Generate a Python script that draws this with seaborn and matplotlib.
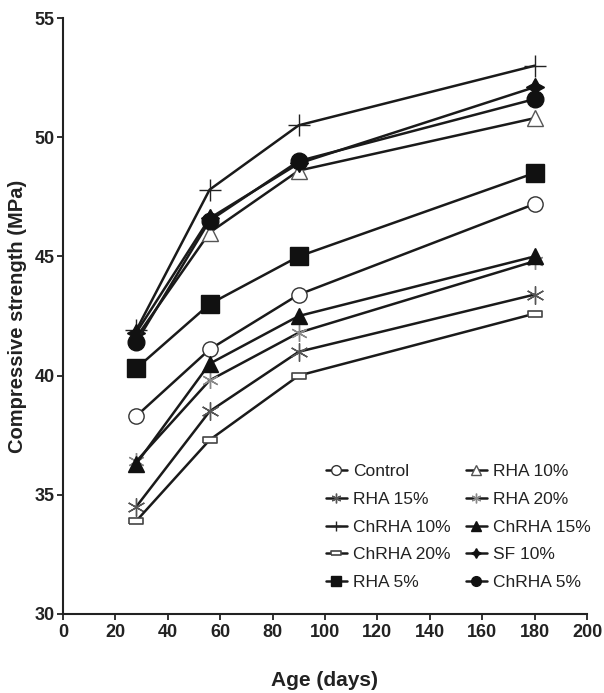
import numpy as np
import pandas as pd
import matplotlib
matplotlib.use("Agg")
import matplotlib.pyplot as plt
import seaborn as sns

sns.set_style("ticks")
plt.rcParams["font.family"] = ["Liberation Sans", "DejaVu Sans"]

days = [28, 56, 90, 180]
control = [38.3, 41.1, 43.4, 47.2]
rha5 = [40.3, 43.0, 45.0, 48.5]
rha10 = [41.6, 46.0, 48.6, 50.8]
rha15 = [34.5, 38.5, 41.0, 43.4]
rha20 = [36.4, 39.8, 41.8, 44.8]
chrha5 = [41.4, 46.5, 49.0, 51.6]
chrha10 = [41.9, 47.8, 50.5, 53.0]
chrha15 = [36.3, 40.5, 42.5, 45.0]
chrha20 = [33.9, 37.3, 40.0, 42.6]
sf10 = [41.8, 46.6, 48.9, 52.1]

# legend order (column-wise, 2 columns)
series = [
    ("Control", control),
    ("RHA 15%", rha15),
    ("ChRHA 10%", chrha10),
    ("ChRHA 20%", chrha20),
    ("RHA 5%", rha5),
    ("RHA 10%", rha10),
    ("RHA 20%", rha20),
    ("ChRHA 15%", chrha15),
    ("SF 10%", sf10),
    ("ChRHA 5%", chrha5),
]

flat_rect = [(-1, -0.4), (1, -0.4), (1, 0.4), (-1, 0.4), (-1, -0.4)]
styles = {
    "Control": dict(marker="o", ms=11, mfc="white", mec="#333333", mew=1.0),
    "RHA 15%": dict(marker=(6, 2, 0), ms=13, mfc="none", mec="#555555", mew=1.0),
    "ChRHA 10%": dict(marker="+", ms=16, mfc="none", mec="#222222", mew=1.0),
    "ChRHA 20%": dict(marker=flat_rect, ms=10, mfc="white", mec="#444444", mew=1.2),
    "RHA 5%": dict(marker="s", ms=13, mfc="#111111", mec="#111111", mew=1.0),
    "RHA 10%": dict(marker="^", ms=12, mfc="white", mec="#555555", mew=1.0),
    "RHA 20%": dict(marker=(6, 2, 0), ms=12, mfc="none", mec="#888888", mew=1.0),
    "ChRHA 15%": dict(marker="^", ms=12, mfc="#111111", mec="#111111", mew=1.0),
    "SF 10%": dict(marker=(4, 1, 0), ms=13, mfc="#111111", mec="#111111", mew=1.0),
    "ChRHA 5%": dict(marker="o", ms=12, mfc="#111111", mec="#111111", mew=1.0),
}

fig = plt.figure(figsize=(6.04, 6.93), dpi=100)
ax = fig.add_axes([0.104, 0.114, 0.868, 0.860])

for name, vals in series:
    df = pd.DataFrame({"Age": days, "Strength": vals})
    sns.lineplot(data=df, x="Age", y="Strength", ax=ax, color="#1a1a1a",
                 linewidth=1.8, label=name, **styles[name])

ax.set_xlim(0, 200)
ax.set_ylim(30, 55)
ax.set_xticks(np.arange(0, 201, 20))
ax.set_yticks(np.arange(30, 56, 5))
for s in ["top", "right"]:
    ax.spines[s].set_visible(False)
for s in ["left", "bottom"]:
    ax.spines[s].set_linewidth(1.5)
    ax.spines[s].set_color("#222222")
ax.tick_params(axis="x", direction="out", length=4, width=1.3, labelsize=13, pad=3, colors="#222222")
ax.tick_params(axis="y", direction="out", length=4, width=1.3, labelsize=13, pad=2, colors="#222222")
for lab in ax.get_xticklabels() + ax.get_yticklabels():
    lab.set_fontweight("bold")

ax.set_xlabel("Age (days)", fontsize=15, fontweight="bold", labelpad=22, color="#222222")
ax.set_ylabel("Compressive strength (MPa)", fontsize=14.5, fontweight="bold", labelpad=5, color="#222222")

leg = ax.legend(ncol=2, loc="lower right", bbox_to_anchor=(1.03, 0.02), frameon=False,
                fontsize=12.5, labelspacing=0.72, handlelength=1.2, handletextpad=0.35,
                columnspacing=0.9, borderaxespad=0.3)
for h in leg.legend_handles:
    h.set_markersize(7)
for t in leg.get_texts():
    t.set_color("#222222")

fig.savefig("out.png", dpi=100)
